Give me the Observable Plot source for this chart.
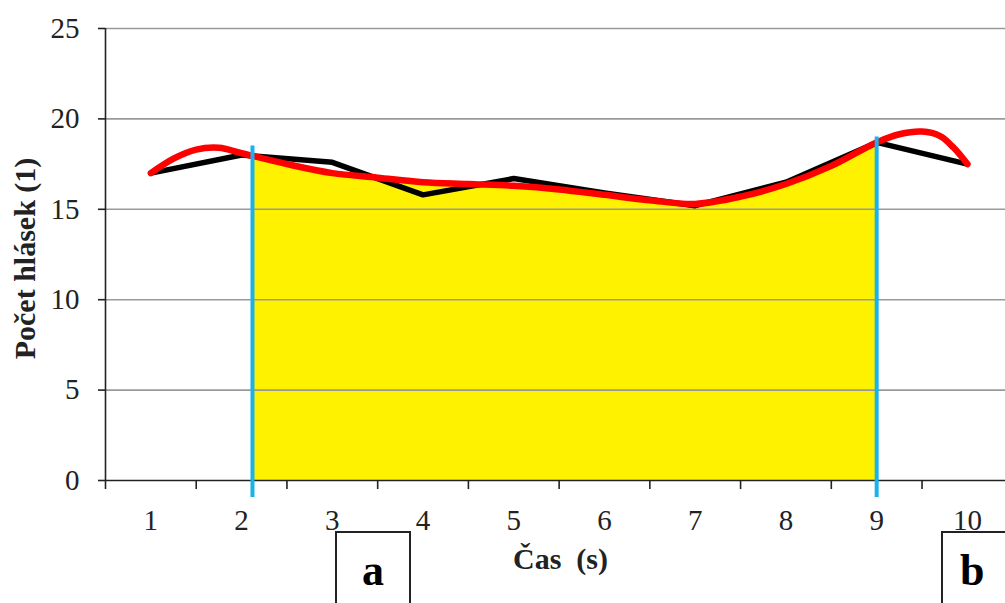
<!DOCTYPE html>
<html>
<head>
<meta charset="utf-8">
<script src="https://cdn.jsdelivr.net/npm/d3@7"></script>
<script src="https://cdn.jsdelivr.net/npm/@observablehq/plot@0.6"></script>
<style>
  html, body { margin: 0; padding: 0; background: #fff; overflow: hidden; }
  #wrap { position: relative; width: 1005px; height: 603px; }
  .box { position: absolute; border: 2px solid #222; box-sizing: border-box; background: #fff;
         font-family: "Liberation Serif", serif; font-weight: bold; font-size: 44px; color: #000;
         text-align: center; }
</style>
</head>
<body>
<div id="wrap"></div>
<script>
// Categories (time, s)
const categories = [1, 2, 3, 4, 5, 6, 7, 8, 9, 10];
// Black measured series
const blackValues = [17.0, 18.0, 17.6, 15.8, 16.7, 15.9, 15.2, 16.5, 18.7, 17.5];
// Red smoothed curve
const redX = [1, 1.25, 1.5, 1.75, 2, 2.5, 3, 3.5, 4, 4.5, 5, 5.5, 6, 6.5, 7, 7.5, 8, 8.5, 9, 9.25, 9.5, 9.7, 9.85, 10];
const redY = [17.0, 17.8, 18.3, 18.4, 18.1, 17.5, 17.0, 16.75, 16.5, 16.4, 16.3, 16.1, 15.8, 15.5, 15.3, 15.7, 16.4, 17.4, 18.7, 19.15, 19.3, 19.05, 18.4, 17.5];
// Integration limits (blue lines) and their top values
const limitX = [2.12, 9];
const limitTop = [18.5, 19.0];
const limitBottom = -0.94;
// Yellow area start value at the left limit
const areaStartY = 18.0;
// Axis ticks
const yTicks = [0, 5, 10, 15, 20, 25];
const gridTicks = [5, 10, 15, 20, 25];
const xBounds = [0.5, 1.5, 2.5, 3.5, 4.5, 5.5, 6.5, 7.5, 8.5, 9.5];
const yTitle = "Počet hlásek (1)";
const xTitle = "Čas\u00a0\u00a0(s)";
const boxLabels = ["a", "b"];

const black = categories.map((c, i) => ({x: c, y: blackValues[i]}));
const red = redX.map((x, i) => ({x, y: redY[i]}));
const area = [{x: limitX[0], y: areaStartY}, ...red.filter(d => d.x > limitX[0] && d.x <= limitX[1])];
const limits = limitX.map((x, i) => ({x, top: limitTop[i]}));

const font = "Liberation Serif, Times New Roman, serif";

const chart = Plot.plot({
  width: 1005,
  height: 603,
  marginLeft: 105,
  marginRight: 0,
  marginTop: 28,
  marginBottom: 123,
  style: {fontFamily: font, background: "transparent", color: "#222"},
  x: {domain: [0.5, 10.42]},
  y: {domain: [0, 25]},
  marks: [
    Plot.areaY(area, {x: "x", y: "y", fill: "#fff200", curve: "catmull-rom"}),
    Plot.gridY(gridTicks, {stroke: "#9a9a9a", strokeOpacity: 1, strokeWidth: 1.6}),
    Plot.ruleY([0], {stroke: "#222", strokeWidth: 1.6}),
    Plot.ruleX([0.5], {y1: 0, y2: 25, stroke: "#222", strokeWidth: 1.6}),
    Plot.ruleX(xBounds, {y1: 0, y2: -0.5, stroke: "#222", strokeWidth: 1.6}),
    Plot.axisY({ticks: yTicks, tickSize: 7, tickPadding: 19, fontSize: 29, label: null, stroke: "#222", strokeWidth: 1.6}),
    Plot.axisX({ticks: categories, tickSize: 0, tickPadding: 29, fontSize: 29, label: null}),
    Plot.line(black, {x: "x", y: "y", stroke: "#000", strokeWidth: 5.5, strokeLinejoin: "round"}),
    Plot.line(red, {x: "x", y: "y", stroke: "#ff0000", strokeWidth: 6.5, curve: "catmull-rom", strokeLinecap: "round"}),
    Plot.ruleX(limits, {x: "x", y1: limitBottom, y2: "top", stroke: "#1ab2ea", strokeWidth: 4}),
    Plot.text([yTitle], {frameAnchor: "left", textAnchor: "middle", rotate: -90, dx: -80, dy: 4, fontSize: 30, fontWeight: "bold", fill: "#222"}),
    Plot.text([xTitle], {frameAnchor: "bottom", dx: 5, dy: 88, fontSize: 30, fontWeight: "bold", fill: "#222"})
  ]
});
document.getElementById("wrap").appendChild(chart);

// label boxes a and b
const boxes = [
  {label: boxLabels[0], left: 335, width: 76},
  {label: boxLabels[1], left: 941, width: 90}
];
for (const b of boxes) {
  const d = document.createElement("div");
  d.className = "box";
  d.style.left = b.left + "px";
  d.style.top = "531px";
  d.style.width = b.width + "px";
  d.style.height = "100px";
  d.style.lineHeight = "76px";
  if (b.label === "b") { d.style.textAlign = "left"; d.style.paddingLeft = "17px"; }
  d.textContent = b.label;
  document.getElementById("wrap").appendChild(d);
}
</script>
</body>
</html>
